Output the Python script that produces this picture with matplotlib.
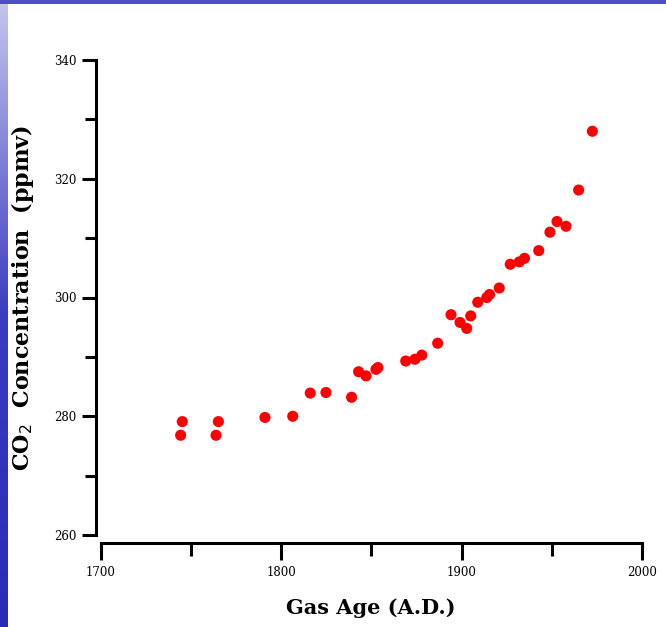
import numpy as np
import matplotlib
matplotlib.use("Agg")
import matplotlib.pyplot as plt

# Gas age (A.D.) and CO2 (ppmv)
gas_age = [1744.4, 1745.3, 1764.0, 1765.3, 1791.1, 1806.5, 1816.2, 1824.9,
           1839.1, 1843.0, 1847.1, 1852.6, 1853.7, 1869.1, 1874.2, 1878.0,
           1886.8, 1894.2, 1899.2, 1902.9, 1905.1, 1909.0, 1914.0, 1915.5,
           1920.9, 1927.0, 1932.0, 1934.9, 1942.8, 1949.0, 1952.9, 1957.9,
           1964.9, 1972.5]
co2 = [276.8, 279.1, 276.8, 279.1, 279.8, 280.0, 283.9, 284.0,
       283.2, 287.5, 286.8, 287.9, 288.2, 289.3, 289.6, 290.3,
       292.3, 297.1, 295.8, 294.8, 296.9, 299.2, 300.0, 300.5,
       301.6, 305.6, 306.0, 306.6, 307.9, 311.0, 312.8, 312.0,
       318.1, 328.0]

x_major = [1700, 1800, 1900, 2000]
x_minor = [1750, 1850, 1950]
y_major = [260, 280, 300, 320, 340]
y_minor = [270, 290, 310, 330]

W, H = 666, 627
fig = plt.figure(figsize=(W / 100, H / 100), dpi=100)
fig.patch.set_facecolor("white")

# blue border strips (slide background)
left_strip = fig.add_axes([0, 0, 8 / W, 1])
grad = np.linspace(0, 1, 256).reshape(-1, 1)
cmap = matplotlib.colors.LinearSegmentedColormap.from_list(
    "edge", ["#2a2ab4", "#3c3cc0", "#c4c6ee"])
left_strip.imshow(grad, aspect="auto", cmap=cmap, origin="lower")
left_strip.set_axis_off()
top_strip = fig.add_axes([0, 1 - 4 / H, 1, 4 / H])
top_strip.set_facecolor("#4b50c4")
top_strip.set_xticks([])
top_strip.set_yticks([])
for s in top_strip.spines.values():
    s.set_visible(False)

ax = fig.add_axes([100.5 / W, 1 - 535 / H, (642 - 100.5) / W, (535 - 60) / H])
ax.scatter(gas_age, co2, s=64, color="#ff0000", edgecolors="none", zorder=3)

ax.set_xlim(1700, 2000)
ax.set_ylim(260, 340)
for side in ["top", "right"]:
    ax.spines[side].set_visible(False)
ax.spines["left"].set_position(("outward", 3))
ax.spines["bottom"].set_position(("outward", 6))
for side in ["left", "bottom"]:
    ax.spines[side].set_linewidth(2.2)

ax.set_xticks(x_major)
ax.set_xticks(x_minor, minor=True)
ax.set_yticks(y_major)
ax.set_yticks(y_minor, minor=True)
ax.tick_params(axis="y", which="major", length=10, width=2.2, pad=4)
ax.tick_params(axis="y", which="minor", length=8, width=2.2)
ax.tick_params(axis="x", which="major", length=12, width=2.2, pad=4)
ax.tick_params(axis="x", which="minor", length=9, width=2.2)

for lab in ax.get_xticklabels() + ax.get_yticklabels():
    lab.set_family("DejaVu Serif")
    lab.set_fontsize(8.5)

ax.set_xlabel("Gas Age (A.D.)", family="DejaVu Serif", fontweight="bold",
              fontsize=15, labelpad=14)
ax.set_ylabel("CO$_2$  Concentration  (ppmv)", family="DejaVu Serif",
              fontweight="bold", fontsize=16, labelpad=13)

fig.savefig("out.png", dpi=100, facecolor="white")
